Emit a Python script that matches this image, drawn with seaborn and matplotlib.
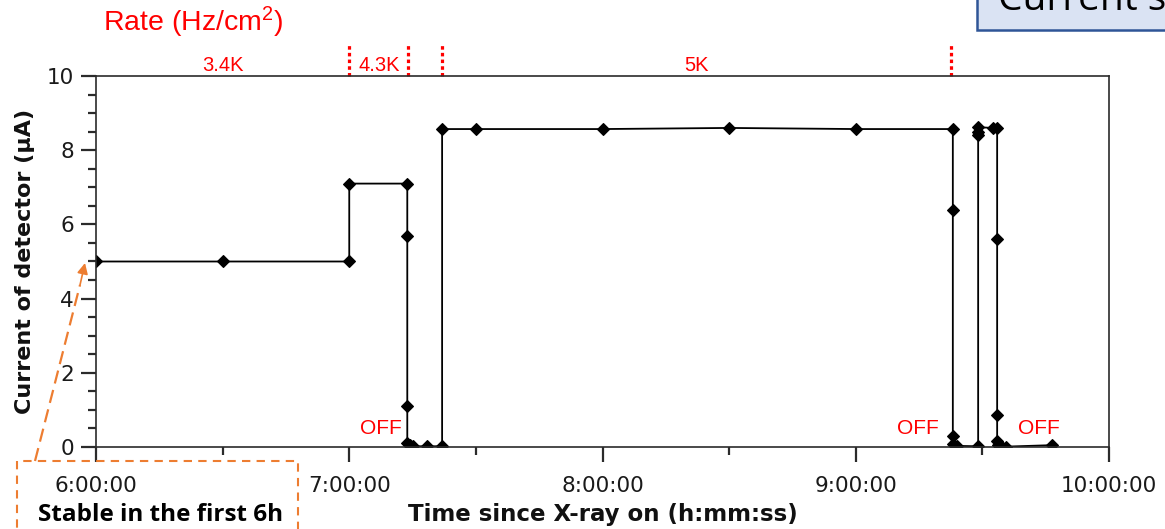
import matplotlib
matplotlib.use("Agg")
import matplotlib.pyplot as plt
import pandas as pd
import seaborn as sns
from matplotlib.patches import Rectangle, FancyArrowPatch
from matplotlib.lines import Line2D
from matplotlib.ticker import MultipleLocator, FixedLocator

# Detector current log (time since X-ray on, current in µA)
times = [
    "6:00:00", "6:30:00", "7:00:00", "7:00:00", "7:13:45", "7:13:45", "7:13:45",
    "7:13:45", "7:14:20", "7:15:00", "7:18:30", "7:22:00", "7:22:00", "7:30:00",
    "8:00:00", "8:30:00", "9:00:00", "9:23:00", "9:23:00", "9:23:00", "9:23:00",
    "9:24:00", "9:29:00", "9:29:00", "9:29:00", "9:29:00", "9:32:30", "9:33:30",
    "9:33:30", "9:33:30", "9:33:30", "9:33:45", "9:34:30", "9:35:30", "9:46:30",
]
current_ua = [
    5.0, 5.0, 5.0, 7.1, 7.1, 5.7, 1.1,
    0.1, 0.05, 0.02, 0.02, 0.02, 8.57, 8.57,
    8.57, 8.6, 8.57, 8.57, 6.4, 0.3, 0.08,
    0.03, 0.02, 8.4, 8.5, 8.62, 8.6, 8.6,
    5.6, 0.85, 0.15, 0.05, 0.02, 0.01, 0.05,
]

x_tick_labels = ["6:00:00", "7:00:00", "8:00:00", "9:00:00", "10:00:00"]
y_ticks = [0, 2, 4, 6, 8, 10]

rate_bounds = ["7:00:00", "7:14:00", "7:22:00", "9:22:30"]
rate_spans = [("6:00:00", "7:00:00"), ("7:00:00", "7:14:00"), ("7:22:00", "9:22:30")]
rate_labels = ["3.4K", "4.3K", "5K"]

off_times = ["7:07:35", "9:14:40", "9:43:25"]
off_level = 0.5


def hours(stamp):
    h, m, s = (int(p) for p in stamp.split(":"))
    return h + m / 60 + s / 3600


W, H = 1165, 529


def fxy(x, y):
    """Pixel position (from top-left) to figure fraction."""
    return x / W, 1 - y / H


df = pd.DataFrame({"hours": [hours(t) for t in times], "current": current_ua})

spine_c = "#2b2b2b"
sns.set_style("ticks")
plt.rcParams.update({
    "mathtext.fontset": "custom",
    "mathtext.rm": "Liberation Sans",
    "mathtext.it": "Liberation Sans",
    "font.family": ["DejaVu Sans"],
    "xtick.bottom": True,
    "ytick.left": True,
    "xtick.direction": "out",
    "ytick.direction": "out",
    "xtick.major.size": 11,
    "ytick.major.size": 11,
    "xtick.minor.size": 6,
    "ytick.minor.size": 6,
    "xtick.major.width": 1.6,
    "ytick.major.width": 1.6,
    "xtick.minor.width": 1.6,
    "ytick.minor.width": 1.6,
    "xtick.color": spine_c,
    "ytick.color": spine_c,
    "xtick.labelsize": 15.5,
    "ytick.labelsize": 15.5,
    "xtick.major.pad": 10,
    "ytick.major.pad": 5,
    "xtick.labelcolor": "#1a1a1a",
    "ytick.labelcolor": "#1a1a1a",
})

fig = plt.figure(figsize=(W / 100, H / 100), dpi=100)
ax = fig.add_axes([96 / W, 1 - 447 / H, (1109 - 96) / W, (447 - 76) / H])

sns.lineplot(data=df, x="hours", y="current", sort=False, estimator=None,
             color="black", linewidth=1.3, marker="D", markersize=6,
             markeredgecolor="black", markeredgewidth=0.8, ax=ax)

ax.set_xlim(6, 10)
ax.set_ylim(0, 10)
ax.xaxis.set_major_locator(FixedLocator([hours(t) for t in x_tick_labels]))
ax.set_xticklabels(x_tick_labels)
ax.xaxis.set_minor_locator(MultipleLocator(0.5))
ax.set_yticks(y_ticks)
ax.yaxis.set_minor_locator(MultipleLocator(0.5))

for sp in ax.spines.values():
    sp.set_visible(True)
    sp.set_color(spine_c)
    sp.set_linewidth(1.2)

ax.set_xlabel("Time since X-ray on (h:mm:ss)", fontsize=16.5,
              fontweight="bold", va="center", color="#111111")
ax.xaxis.set_label_coords(0.5, (447 - 514) / 371)
ax.set_ylabel("Current of detector (µA)", fontsize=16, fontweight="bold",
              va="center", color="#111111")
ax.yaxis.set_label_coords((25 - 96) / 1013, 0.5)

red = "#FF0000"
# Rate boundaries above the plot
for b in rate_bounds:
    ax.plot([hours(b), hours(b)], [10, 10.85], color=red, lw=2.3,
            linestyle=(0, (1.1, 1.0)), clip_on=False, solid_capstyle="butt")
for (a, b), lab in zip(rate_spans, rate_labels):
    ax.text((hours(a) + hours(b)) / 2, 10.27, lab, color=red, fontsize=14.5,
            family="Liberation Sans", ha="center", va="center", clip_on=False)

fig.text(*fxy(103, 22), "Rate (Hz/cm$^{2}$)", color=red, fontsize=20.5,
         family="Liberation Sans", ha="left", va="center")

for t in off_times:
    ax.text(hours(t), off_level, "OFF", color=red, fontsize=15,
            family="Liberation Sans", ha="center", va="center")

# Annotation: stable period
orange = "#ED7D31"
fig.add_artist(Rectangle(fxy(17, 600), (298 - 17) / W, (600 - 461) / H,
                         transform=fig.transFigure, fill=False, ec=orange,
                         lw=1.5, linestyle=(0, (4, 3)), clip_on=False))
fig.text(*fxy(161, 515), "Stable in the first 6h", fontsize=17.5,
         fontweight="bold", family="Open Sans", ha="center", va="center",
         color="black")
x0, y0 = fxy(35, 461)
x1, y1 = fxy(80, 285)
fig.add_artist(Line2D([x0, x1], [y0, y1], transform=fig.transFigure,
                      color=orange, lw=1.6, linestyle=(0, (6, 3))))
fig.add_artist(FancyArrowPatch(fxy(80, 285), fxy(85, 263),
                               transform=fig.transFigure,
                               arrowstyle="-|>", mutation_scale=16,
                               color=orange, lw=1.2,
                               shrinkA=0, shrinkB=0))

# Title box at the top right
fig.add_artist(Rectangle(fxy(977, 30), 0.3, 0.2, transform=fig.transFigure,
                         fc="#DAE3F3", ec="#2F5597", lw=1.8, clip_on=False))
fig.text(*fxy(998, 10), "Current stability", fontsize=28, family="Open Sans",
         ha="left", va="baseline", color="black")

# Outward ticks on the bottom and left axes: long majors, short minors
ax.xaxis.set_tick_params(which="both", bottom=True, top=False,
                         direction="out", width=1.6, color=spine_c)
ax.yaxis.set_tick_params(which="both", left=True, right=False,
                         direction="out", width=1.6, color=spine_c)
ax.xaxis.set_tick_params(which="major", length=11)
ax.xaxis.set_tick_params(which="minor", length=6)
ax.yaxis.set_tick_params(which="major", length=11)
ax.yaxis.set_tick_params(which="minor", length=6)

fig.savefig("out.png", dpi=100)
